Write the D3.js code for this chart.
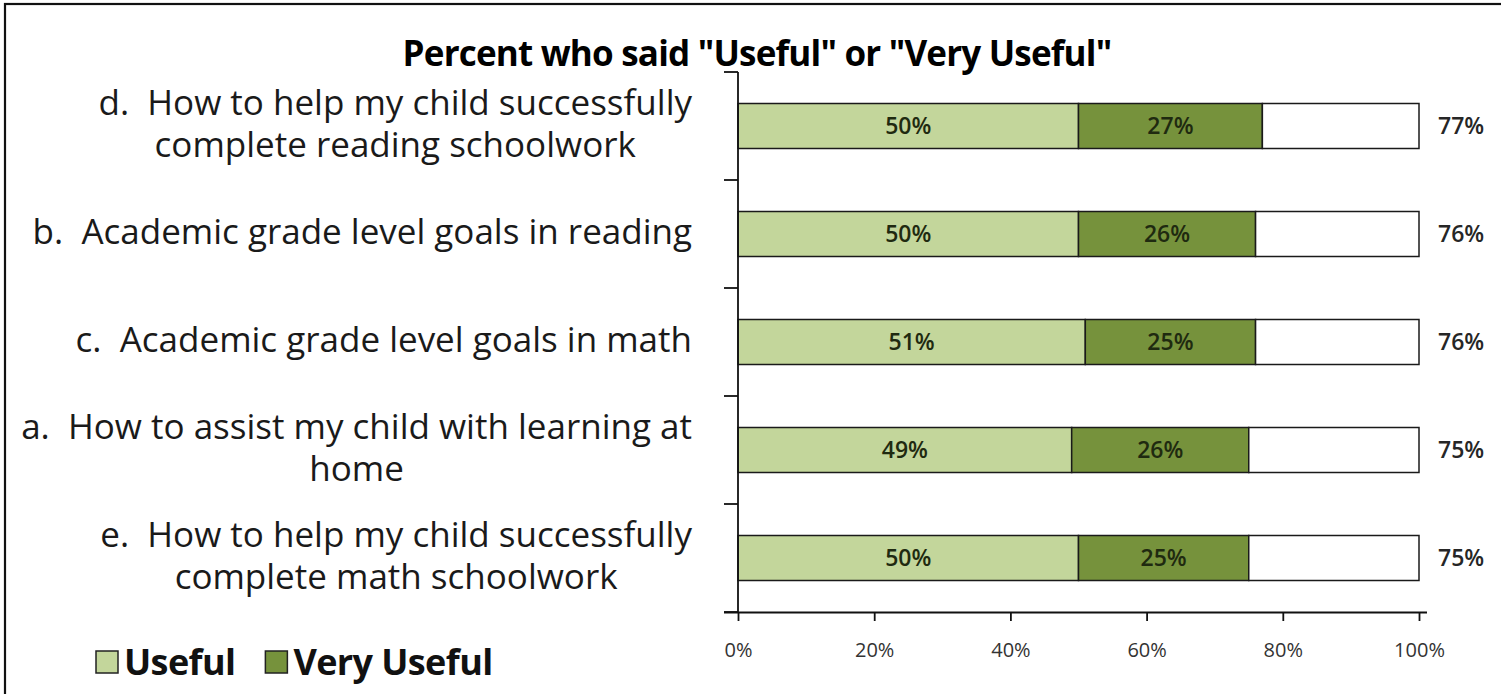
<!DOCTYPE html>
<html>
<head>
<meta charset="utf-8">
<script src="https://cdn.jsdelivr.net/npm/d3@7"></script>
<style>
  html, body { margin: 0; padding: 0; background: #fff; }
  svg text { white-space: pre; }
</style>
</head>
<body>
<svg id="chart" width="1501" height="694"></svg>
<script>
// Survey items, top to bottom, each split into its display lines
const categories = ["d", "b", "c", "a", "e"];
const categoryLines = [
  ["d.  How to help my child successfully", "complete reading schoolwork"],
  ["b.  Academic grade level goals in reading"],
  ["c.  Academic grade level goals in math"],
  ["a.  How to assist my child with learning at", "home"],
  ["e.  How to help my child successfully", "complete math schoolwork"]
];
const usefulValues = [50, 50, 51, 49, 50];
const veryUsefulValues = [27, 26, 25, 26, 25];
const totalValues = [77, 76, 76, 75, 75];
const xTicks = [0, 20, 40, 60, 80, 100];
const seriesNames = ["Useful", "Very Useful"];
const titleText = 'Percent who said "Useful" or "Very Useful"';

const colors = { useful: "#c3d69b", veryUseful: "#76923c" };
const font = "'Open Sans', sans-serif";

const svg = d3.select("#chart");

// outer frame
svg.append("rect")
  .attr("x", 5).attr("y", 4).attr("width", 1500).attr("height", 700)
  .attr("fill", "none").attr("stroke", "#111").attr("stroke-width", 2.2);

const plot = { left: 738, right: 1419, top: 72, bottom: 612 };

const x = d3.scaleLinear().domain([0, 100]).range([plot.left, plot.right]);
const y = d3.scaleBand().domain(categories)
  .range([plot.top, plot.bottom])
  .paddingInner(1.4 / 2.4).paddingOuter(0.7 / 2.4);

const rows = categories.map((c, i) => ({
  key: c,
  lines: categoryLines[i],
  useful: usefulValues[i],
  very: veryUsefulValues[i],
  total: totalValues[i]
}));

// title
svg.append("text")
  .attr("x", 757).attr("y", 66)
  .attr("text-anchor", "middle")
  .attr("font-family", font)
  .attr("font-weight", "bold")
  .attr("font-size", 35)
  .attr("letter-spacing", -0.8)
  .attr("fill", "#000")
  .text(titleText);

// stacked segments: Useful, Very Useful, and the white remainder up to 100%
const segs = [];
rows.forEach(r => {
  segs.push({ key: r.key, x0: 0, x1: r.useful, fill: colors.useful, label: r.useful + "%" });
  segs.push({ key: r.key, x0: r.useful, x1: r.useful + r.very, fill: colors.veryUseful, label: r.very + "%" });
  segs.push({ key: r.key, x0: r.useful + r.very, x1: 100, fill: "#fff", label: null });
});

svg.append("g").selectAll("rect").data(segs).join("rect")
  .attr("x", d => x(d.x0))
  .attr("y", d => y(d.key))
  .attr("width", d => x(d.x1) - x(d.x0))
  .attr("height", y.bandwidth())
  .attr("fill", d => d.fill)
  .attr("stroke", "#1a1a1a")
  .attr("stroke-width", 1.5);

svg.append("g").selectAll("text").data(segs.filter(d => d.label)).join("text")
  .attr("x", d => (x(d.x0) + x(d.x1)) / 2)
  .attr("y", d => y(d.key) + y.bandwidth() / 2)
  .attr("dy", "0.36em")
  .attr("text-anchor", "middle")
  .attr("font-family", font)
  .attr("font-weight", 600)
  .attr("font-size", 23)
  .attr("fill", "#1f2a10")
  .text(d => d.label);

// totals to the right of each bar
svg.append("g").selectAll("text").data(rows).join("text")
  .attr("x", x(100) + 19)
  .attr("y", d => y(d.key) + y.bandwidth() / 2)
  .attr("dy", "0.36em")
  .attr("font-family", font)
  .attr("font-weight", 600)
  .attr("font-size", 23)
  .attr("fill", "#262626")
  .text(d => d.total + "%");

// x axis
const xAxis = svg.append("g")
  .attr("transform", `translate(0,${plot.bottom})`)
  .call(d3.axisBottom(x).tickValues(xTicks).tickSize(9).tickPadding(22)
    .tickFormat(d => d + "%"));
xAxis.select(".domain").attr("d", `M${plot.left - 14},0.5H${plot.right + 8}`)
  .attr("stroke", "#111").attr("stroke-width", 1.8);
xAxis.selectAll(".tick line").attr("stroke", "#111").attr("stroke-width", 1.8);
xAxis.selectAll(".tick text")
  .attr("font-family", font).attr("font-size", 20).attr("fill", "#333");

// y axis: category ticks sit between bands
const boundaries = categories.map(c => y(c) - y.step() * y.paddingInner() / 2);
boundaries.push(plot.bottom);
const yAxis = svg.append("g");
yAxis.append("line")
  .attr("x1", plot.left).attr("x2", plot.left)
  .attr("y1", plot.top).attr("y2", plot.bottom)
  .attr("stroke", "#111").attr("stroke-width", 1.8);
yAxis.selectAll("line.tick").data(boundaries).join("line")
  .attr("class", "tick")
  .attr("x1", plot.left - 14).attr("x2", plot.left)
  .attr("y1", d => d).attr("y2", d => d)
  .attr("stroke", "#111").attr("stroke-width", 1.8);

// category labels: wrapped lines centred on each other, block right-aligned
const lineHeight = 42;
const labelRight = 692;
const catG = svg.append("g");
rows.forEach(r => {
  const g = catG.append("g");
  const cy = y(r.key) + y.bandwidth() / 2 - 3;
  const n = r.lines.length;
  const texts = g.selectAll("text").data(r.lines).join("text")
    .attr("y", (d, i) => cy + (i - (n - 1) / 2) * lineHeight)
    .attr("dy", "0.36em")
    .attr("text-anchor", "middle")
    .attr("font-family", font)
    .attr("font-size", 35)
    .attr("letter-spacing", 0)
    .attr("fill", "#1a1a1a")
    .text(d => d);
  let maxW = 0;
  texts.each(function () { maxW = Math.max(maxW, this.getComputedTextLength()); });
  texts.attr("x", labelRight - maxW / 2);
});

// legend: swatch + bold name, laid out left to right
const legend = svg.append("g").attr("transform", "translate(96,662)");
let lx = 0;
seriesNames.forEach((name, i) => {
  const g = legend.append("g").attr("transform", `translate(${lx},0)`);
  g.append("rect")
    .attr("x", 0).attr("y", -11).attr("width", 22).attr("height", 22)
    .attr("fill", i === 0 ? colors.useful : colors.veryUseful)
    .attr("stroke", "#222").attr("stroke-width", 1.5);
  const t = g.append("text")
    .attr("x", 28).attr("dy", "0.36em")
    .attr("font-family", font).attr("font-weight", "bold")
    .attr("font-size", 36).attr("letter-spacing", -0.6).attr("fill", "#111")
    .text(name);
  lx += 28 + t.node().getComputedTextLength() + 30;
});
</script>
</body>
</html>
